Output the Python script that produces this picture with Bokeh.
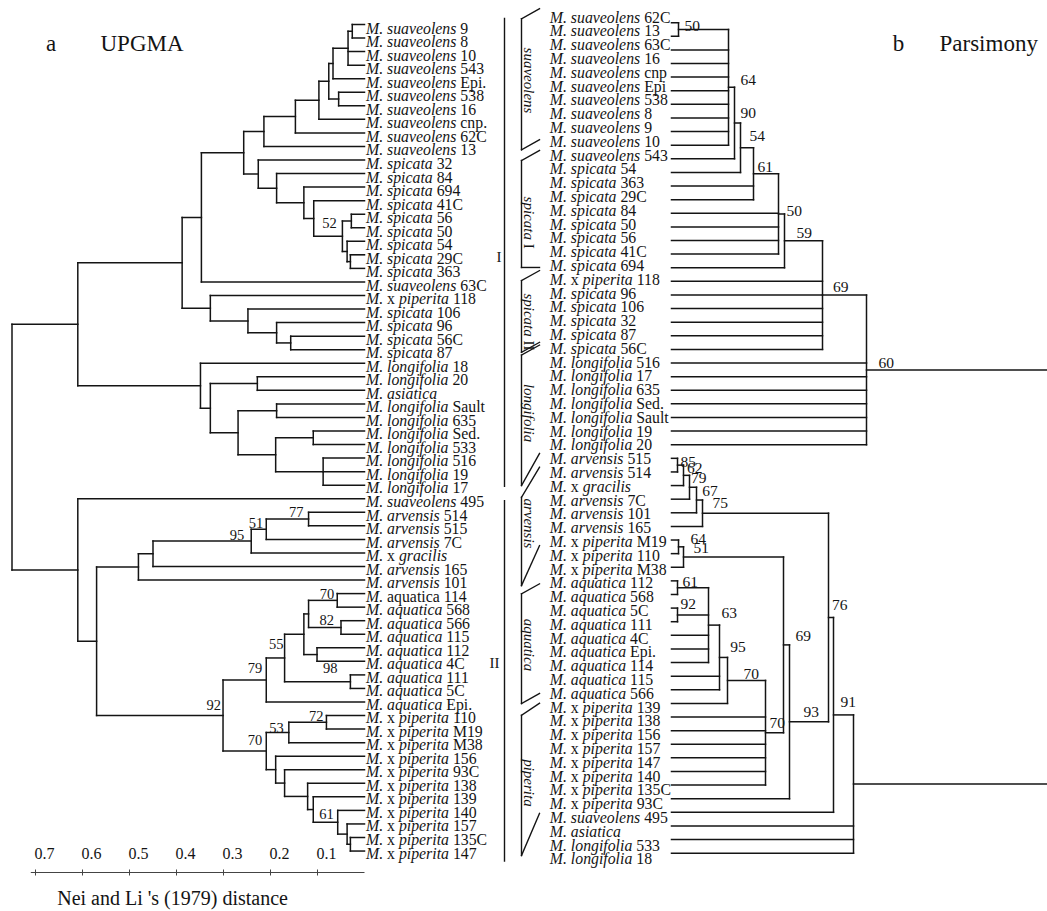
import math
from bokeh.plotting import figure
from bokeh.models import Range1d, ColumnDataSource
from bokeh.core.properties import value
from bokeh.embed import file_html
from bokeh.resources import INLINE

# ------------------------------------------------------------------ data
left_labels = [
    "M. suaveolens 9", "M. suaveolens 8", "M. suaveolens 10", "M. suaveolens 543",
    "M. suaveolens Epi.", "M. suaveolens 538", "M. suaveolens 16", "M. suaveolens cnp.",
    "M. suaveolens 62C", "M. suaveolens 13", "M. spicata 32", "M. spicata 84",
    "M. spicata 694", "M. spicata 41C", "M. spicata 56", "M. spicata 50",
    "M. spicata 54", "M. spicata 29C", "M. spicata 363", "M. suaveolens 63C",
    "M. x piperita 118", "M. spicata 106", "M. spicata 96", "M. spicata 56C",
    "M. spicata 87", "M. longifolia 18", "M. longifolia 20", "M. asiatica",
    "M. longifolia Sault", "M. longifolia 635", "M. longifolia Sed.", "M. longifolia 533",
    "M. longifolia 516", "M. longifolia 19", "M. longifolia 17", "M. suaveolens 495",
    "M. arvensis 514", "M. arvensis 515", "M. arvensis 7C", "M. x gracilis",
    "M. arvensis 165", "M. arvensis 101", "M. aquatica 114", "M. aquatica 568",
    "M. aquatica 566", "M. aquatica 115", "M. aquatica 112", "M. aquatica 4C",
    "M. aquatica 111", "M. aquatica 5C", "M. aquatica Epi.", "M. x piperita 110",
    "M. x piperita M19", "M. x piperita M38", "M. x piperita 156", "M. x piperita 93C",
    "M. x piperita 138", "M. x piperita 139", "M. x piperita 140", "M. x piperita 157",
    "M. x piperita 135C", "M. x piperita 147",
]
left_roman_species = [42]

# UPGMA internal nodes: children (leaf row index or node name), Nei-Li distance, bootstrap
left_node_names = [
    "L1", "L2", "L3", "L4", "L5", "L6", "L7", "L8", "L9", "L10",
    "L11", "L12", "L13", "L14", "L15", "L16", "L17", "L18", "L19", "L20",
    "L21", "L22", "L23", "L24", "L25", "L26", "L27", "L28", "L29", "L30",
    "L31", "L32", "L33", "L34", "L35", "L36", "L37", "L38", "L39", "L40",
    "L41", "L42", "L43", "L44", "L45", "L46", "L47", "L48", "L49", "L50",
    "L51", "L52", "L53", "L54", "L55", "L56", "L57", "L58", "L59",
]
left_node_children = [
    [0, 1], ["L1", 2, 3], ["L2", 4], [5, 6], ["L3", "L4"], ["L5", 7], ["L6", 8], ["L7", 9],
    [14, 15], [17, 18], [16, "L10"], ["L9", "L11"], [13, "L12"], [12, "L13"], [11, "L14"],
    [10, "L15"], ["L8", "L16"], ["L17", 19], [23, 24], [22, "L19"], [21, "L20"], [20, "L21"],
    ["L18", "L22"], [32, 33, 34], [30, 31], ["L25", "L24"], [28, 29], ["L27", "L26"],
    [26, 27], ["L29", "L28"], [25, "L30"], ["L23", "L31"],
    [36, 37], ["L33", 38], ["L34", 39], ["L35", 40], ["L36", 41],
    [42, 43], [44, 45], ["L38", "L39"], [46, 47], ["L40", "L41"], [48, 49], ["L42", "L43"],
    ["L44", 50], [51, 52], ["L46", 53], [60, 61], [59, "L48"], [58, "L49"], [57, "L50"],
    [56, "L51"], [55, "L52"], [54, "L53"], ["L47", "L54"], ["L45", "L55"], ["L37", "L56"],
    [35, "L57"], ["L32", "L58"],
]
left_node_dist = [
    0.026, 0.035, 0.067, 0.055, 0.076, 0.097, 0.147, 0.214, 0.028, 0.030,
    0.037, 0.047, 0.108, 0.129, 0.187, 0.226, 0.257, 0.347, 0.157, 0.187,
    0.248, 0.328, 0.388, 0.088, 0.109, 0.189, 0.187, 0.269, 0.228, 0.328,
    0.349, 0.610, 0.119, 0.209, 0.241, 0.450, 0.481, 0.058, 0.050, 0.119,
    0.101, 0.129, 0.030, 0.170, 0.209, 0.081, 0.161, 0.030, 0.037, 0.057,
    0.109, 0.121, 0.170, 0.189, 0.209, 0.301, 0.570, 0.610, 0.750,
]
left_node_support = {
    "L12": "52", "L33": "77", "L34": "51", "L35": "95", "L38": "70", "L39": "82",
    "L41": "98", "L44": "55", "L45": "79", "L46": "72", "L47": "53", "L50": "61",
    "L55": "70", "L56": "92",
}

right_labels = [
    "M. suaveolens 62C", "M. suaveolens 13", "M. suaveolens 63C", "M. suaveolens 16",
    "M. suaveolens cnp", "M. suaveolens Epi", "M. suaveolens 538", "M. suaveolens 8",
    "M. suaveolens 9", "M. suaveolens 10", "M. suaveolens 543", "M. spicata 54",
    "M. spicata 363", "M. spicata 29C", "M. spicata 84", "M. spicata 50",
    "M. spicata 56", "M. spicata 41C", "M. spicata 694", "M. x piperita 118",
    "M. spicata 96", "M. spicata 106", "M. spicata 32", "M. spicata 87",
    "M. spicata 56C", "M. longifolia 516", "M. longifolia 17", "M. longifolia 635",
    "M. longifolia Sed.", "M. longifolia Sault", "M. longifolia 19", "M. longifolia 20",
    "M. arvensis 515", "M. arvensis 514", "M. x gracilis", "M. arvensis 7C",
    "M. arvensis 101", "M. arvensis 165", "M. x piperita M19", "M. x piperita 110",
    "M. x piperita M38", "M. aquatica 112", "M. aquatica 568", "M. aquatica 5C",
    "M. aquatica 111", "M. aquatica 4C", "M. aquatica Epi.", "M. aquatica 114",
    "M. aquatica 115", "M. aquatica 566", "M. x piperita 139", "M. x piperita 138",
    "M. x piperita 156", "M. x piperita 157", "M. x piperita 147", "M. x piperita 140",
    "M. x piperita 135C", "M. x piperita 93C", "M. suaveolens 495", "M. asiatica",
    "M. longifolia 533", "M. longifolia 18",
]

# parsimony consensus: children, cladogram depth (drawing units), bootstrap
right_node_names = [
    "R1", "R2", "R3", "R4", "R5", "R6", "R7", "R8", "R9", "R10",
    "R11", "R12", "R13", "R14", "R15", "R16", "R17", "R18", "R19", "R20",
    "R21", "R22", "R23", "R24", "R25", "R26", "R27", "R28",
]
right_node_children = [
    [0, 1], ["R1", 2, 3, 4, 5, 6, 7, 8, 9], ["R2", 10], ["R3", 11], ["R4", 12, 13],
    ["R5", 14, 15, 16, 17], ["R6", 18], ["R7", 19, 20, 21, 22, 23, 24],
    ["R8", 25, 26, 27, 28, 29, 30, 31],
    [32, 33], ["R10", 34], ["R11", 35], ["R12", 36], ["R13", 37],
    [38, 39], ["R15", 40], [41, 42], [43, 44], ["R17", "R18", 45, 46, 47],
    ["R19", 48, 49], ["R20", 50], ["R21", 51, 52, 53, 54, 55, 56], ["R16", "R22"],
    ["R23", 57], ["R14", "R24"], ["R25", 58], ["R26", 59, 60, 61], ["R9", "R27"],
]
right_node_depth = [
    678, 728, 734, 740, 753, 778, 784, 822, 866,
    677, 683, 689, 696, 702, 678, 683, 677, 677, 708,
    719, 727, 765, 783, 789, 828, 833, 853, 1065,
]
right_node_support = {
    "R1": "50", "R2": "64", "R3": "90", "R4": "54", "R5": "61", "R6": "50", "R7": "59",
    "R8": "69", "R9": "60", "R10": "85", "R11": "62", "R12": "79", "R13": "67",
    "R14": "75", "R15": "64", "R16": "51", "R17": "61", "R18": "92", "R19": "63",
    "R20": "95", "R21": "70", "R22": "70", "R23": "69", "R24": "93", "R25": "76",
    "R26": "91",
}

scale_ticks = [0.7, 0.6, 0.5, 0.4, 0.3, 0.2, 0.1]
scale_tick_labels = ["0.7", "0.6", "0.5", "0.4", "0.3", "0.2", "0.1"]

group_names = ["suaveolens", "spicata", "spicata", "longifolia", "arvensis", "aquatica", "piperita"]
group_suffix = ["", "I", "II", "", "", "", ""]
group_top_row = [0.13, 10.4, 19.1, 24.5, 34.8, 41.8, 50.6]
group_bottom_row = [9.62, 18.15, 24.3, 33.95, 41.2, 49.75, 60.76]
group_label_row = [4.6, 14.9, 22.1, 28.7, 36.7, 45.5, 55.5]

cluster_names = ["I", "II"]
cluster_first_row = [0, 35]
cluster_last_row = [34, 61]
cluster_label_row = [17, 47]

# ------------------------------------------------------------------ layout / style
PAGE_L, PAGE_R, PAGE_T, PAGE_B = 0, 1047, 0, 911
ZERO_PX, PX_PER_UNIT = 364.0, 470.0
INK = "#141414"
FONT = value("Liberation Serif")
LW = 1.5

p = figure(width=PAGE_R - PAGE_L, height=PAGE_B - PAGE_T,
           x_range=Range1d(PAGE_L, PAGE_R), y_range=Range1d(PAGE_B, PAGE_T),
           output_backend="svg", toolbar_location=None,
           x_axis_location=None, y_axis_location=None, min_border=0,
           outline_line_color=None, background_fill_color="white")
p.grid.visible = False


def rows_range(y0, step):
    return Range1d(start=(PAGE_B - y0) / step, end=(PAGE_T - y0) / step)


p.extra_x_ranges = {"dist": Range1d(start=(ZERO_PX - PAGE_L) / PX_PER_UNIT,
                                    end=(ZERO_PX - PAGE_R) / PX_PER_UNIT)}
p.extra_y_ranges = {
    "lline": rows_range(24.0, 13.55),
    "ltext": rows_range(27.8, 13.52),
    "rline": rows_range(22.15, 13.615),
    "rtext": rows_range(16.5, 13.8),
}
ROW_STEP = {"lline": 13.55, "ltext": 13.52, "rline": 13.615, "rtext": 13.8}

ROMAN = {' ': 250, '.': 250, "'": 333, '(': 333, ')': 333, 'C': 667, 'E': 611, 'M': 889,
         'S': 556, 'I': 333, 'N': 722, 'L': 611, 'a': 444, 'c': 444, 'd': 500, 'e': 444,
         'i': 278, 'l': 278, 'n': 500, 'p': 500, 't': 278, 'u': 500, 'x': 500, 's': 389,
         'o': 500, 'r': 333, 'q': 500, 'g': 500, 'v': 500, 'f': 333}
ITALIC = {' ': 250, '.': 250, 'M': 833, 'a': 500, 'c': 444, 'e': 444, 'g': 500, 'i': 278,
          'l': 278, 'n': 500, 'o': 500, 'p': 500, 'q': 500, 'r': 389, 's': 389, 't': 278,
          'u': 500, 'v': 444, 'f': 278, 'x': 444}


def text_width(s, style, size):
    table = ITALIC if style == "italic" else ROMAN
    return sum(table.get(ch, 500) for ch in s) * size / 1000.0


def pieces(label, size, roman_species=False):
    out, off, seen = [], 0.0, False
    for k, tok in enumerate(label.split(" ")):
        if k == 0:
            style = "italic"
        elif tok == "x":
            style = "normal"
        elif not seen and tok.isalpha() and tok.islower():
            style = "normal" if roman_species else "italic"
            seen = True
        else:
            style = "normal"
        if k > 0:
            off += text_width(" ", "normal", size)
        out.append((tok, style, off))
        off += text_width(tok, style, size)
    return out, off


def add_text(xs, ys, texts, xo, yo, size, style, align, baseline, xr=None, yr=None, angle=0.0):
    src = ColumnDataSource(dict(x=xs, y=ys, t=texts, xo=xo, yo=yo))
    kw = {}
    if xr:
        kw["x_range_name"] = xr
    if yr:
        kw["y_range_name"] = yr
    p.text(x="x", y="y", text="t", x_offset="xo", y_offset="yo", source=src,
           text_font=FONT, text_font_size=value(f"{size}px"), text_font_style=style,
           text_align=align, text_baseline=baseline, text_color=INK, angle=angle, **kw)


def build_tree(names, children, xs, leaf_x):
    pos, segs = {}, []
    for n, ch, x in zip(names, children, xs):
        pts = [(leaf_x, float(c)) if isinstance(c, int) else pos[c] for c in ch]
        ys = [q[1] for q in pts]
        pos[n] = (x, (min(ys) + max(ys)) / 2.0)
        segs.append((x, min(ys), x, max(ys)))
        for cx, cy in pts:
            segs.append((cx, cy, x, cy))
    return pos, segs


def draw_segs(segs, xr=None, yr=None, width=LW):
    kw = {}
    if xr:
        kw["x_range_name"] = xr
    if yr:
        kw["y_range_name"] = yr
    p.segment(x0=[s[0] for s in segs], y0=[s[1] for s in segs],
              x1=[s[2] for s in segs], y1=[s[3] for s in segs],
              line_color=INK, line_width=width, line_cap="square", **kw)


def draw_leaf_labels(labels, x, xr, yr, start_px, size, roman_rows=()):
    buckets = {"italic": ([], [], [], []), "normal": ([], [], [], [])}
    for r, lab in enumerate(labels):
        ps, _ = pieces(lab, size, r in roman_rows)
        for tok, style, off in ps:
            b = buckets[style]
            b[0].append(x); b[1].append(r); b[2].append(tok); b[3].append(start_px + off)
    for style, b in buckets.items():
        add_text(b[0], b[1], b[2], b[3], [0.0] * len(b[0]), size, style, "left", "middle",
                 xr=xr, yr=yr)


# ------------------------------------------------------------------ UPGMA tree (a)
lpos, lsegs = build_tree(left_node_names, left_node_children, left_node_dist, 0.0)
draw_segs(lsegs, xr="dist", yr="lline")
draw_leaf_labels(left_labels, 0.0, "dist", "ltext", 1.5, 15.8, left_roman_species)

LEFT_NUDGE = {"L12": (-5.7, -13), "L33": (-5, -7), "L34": (-3, -6), "L35": (-7, -5.6),
              "L38": (-3, -6), "L39": (-7, -7), "L44": (-1, -14), "L45": (-4, -12),
              "L56": (-2, -11), "L46": (-3, -6), "L47": (-5, -4), "L55": (-4, -10.6),
              "L50": (-4, -8)}
BELOW = {"L41": (6, 13.5)}
sx, sy, st, sxo, syo = [], [], [], [], []
bx, by, bt, bxo, byo = [], [], [], [], []
for n, lab in left_node_support.items():
    x, y = lpos[n]
    if n in BELOW:
        dx, dy = BELOW[n]
        bx.append(x); by.append(y); bt.append(lab); bxo.append(dx); byo.append(dy)
    else:
        dx, dy = LEFT_NUDGE.get(n, (-3, -7))
        sx.append(x); sy.append(y); st.append(lab); sxo.append(dx); syo.append(dy)
add_text(sx, sy, st, sxo, syo, 14.5, "normal", "right", "middle", xr="dist", yr="lline")
add_text(bx, by, bt, bxo, byo, 14.5, "normal", "left", "middle", xr="dist", yr="lline")

# scale bar
SCALE_Y, SCALE_LABEL_Y = 872, 853
p.segment(x0=[0.0], y0=[SCALE_Y], x1=[max(scale_ticks) + 0.01], y1=[SCALE_Y],
          x_range_name="dist", line_color="#444444", line_width=1)
p.segment(x0=scale_ticks, y0=[SCALE_Y - 3] * len(scale_ticks), x1=scale_ticks,
          y1=[SCALE_Y + 3] * len(scale_ticks), x_range_name="dist",
          line_color="#444444", line_width=1)
add_text(scale_ticks, [SCALE_LABEL_Y] * len(scale_ticks), scale_tick_labels,
         [-1.0] * len(scale_ticks), [0.0] * len(scale_ticks), 16, "normal", "left", "middle",
         xr="dist")
add_text([56.7], [897], ["Nei and Li 's (1979) distance"], [0.0], [0.0], 20, "normal",
         "left", "middle")

# titles
add_text([50.7, 898], [43, 43], ["a", "b"], [0.0, 0.0], [0.0, 0.0], 23, "normal",
         "center", "middle")
add_text([100, 939], [43, 43], ["UPGMA", "Parsimony"], [0.0, 0.0], [0.0, 0.0], 23,
         "normal", "left", "middle")

# ------------------------------------------------------------------ parsimony tree (b)
RIGHT_LEAF_X, RIGHT_TEXT_X = 671.0, 549.3
rpos, rsegs = build_tree(right_node_names, right_node_children, right_node_depth, RIGHT_LEAF_X)
draw_segs(rsegs, yr="rline")
draw_leaf_labels(right_labels, RIGHT_TEXT_X, None, "rtext", 0.0, 15.8)

RIGHT_NUDGE = {"R1": (6, -3.5), "R2": (12, -7), "R3": (6, -10), "R4": (9, -12),
               "R5": (4, -6.5), "R6": (8, -2.4), "R7": (12, -8), "R8": (10.5, -8),
               "R9": (12, -7), "R10": (3, -3), "R11": (3.4, -7), "R12": (1.4, -9),
               "R13": (5.7, -9), "R14": (10, -10), "R15": (12, -8), "R16": (10, -8.6),
               "R17": (5, -6), "R18": (3, -11), "R19": (13, -11.7), "R20": (10.7, -10),
               "R21": (16, -6), "R22": (4, -10), "R23": (12, -8.6), "R24": (14, -9.6),
               "R25": (3.4, -13), "R26": (7, -13)}
tx, ty, tt, txo, tyo = [], [], [], [], []
for n, lab in right_node_support.items():
    x, y = rpos[n]
    dx, dy = RIGHT_NUDGE.get(n, (8, -9))
    tx.append(x); ty.append(y); tt.append(lab); txo.append(dx); tyo.append(dy)
add_text(tx, ty, tt, txo, tyo, 15.5, "normal", "left", "middle", yr="rline")

# ------------------------------------------------------------------ group brackets
BR_X, BR_W = 521.0, 18.0
step = ROW_STEP["rtext"]
TOP_RISE = [10, 10, 10, 10, 30, 10, 12]
BOTTOM_RISE = [10, 0, 10, 32, 40, 10, 42]
gsegs = []
for k in range(len(group_names)):
    top, bot = group_top_row[k], group_bottom_row[k]
    gsegs.append((BR_X, top, BR_X, bot))
    gsegs.append((BR_X, top, BR_X + BR_W, top - TOP_RISE[k] / step))
    gsegs.append((BR_X, bot, BR_X + BR_W, bot - BOTTOM_RISE[k] / step))
draw_segs(gsegs, yr="rtext", width=1.4)

GL_SIZE = 15
ix, iy, it, iyo = [], [], [], []
nx, ny, nt, nyo = [], [], [], []
for k in range(len(group_names)):
    w_main = text_width(group_names[k], "italic", GL_SIZE)
    total = w_main + (text_width(" " + group_suffix[k], "normal", GL_SIZE) if group_suffix[k] else 0)
    ix.append(528.5); iy.append(group_label_row[k]); it.append(group_names[k]); iyo.append(-total / 2)
    if group_suffix[k]:
        nx.append(528.5); ny.append(group_label_row[k]); nt.append(group_suffix[k])
        nyo.append(-total / 2 + w_main + text_width(" ", "normal", GL_SIZE))
add_text(ix, iy, it, [0.0] * len(ix), iyo, GL_SIZE, "italic", "left", "middle", yr="rtext",
         angle=-math.pi / 2)
add_text(nx, ny, nt, [0.0] * len(nx), nyo, GL_SIZE, "normal", "left", "middle", yr="rtext",
         angle=-math.pi / 2)

# major clusters I / II
lstep = ROW_STEP["lline"]
pad_top = [-6.0, 2.0]
pad_bot = [1.0, 10.0]
csegs = []
for k in range(len(cluster_names)):
    csegs.append((504.0, cluster_first_row[k] + pad_top[k] / lstep,
                  504.0, cluster_last_row[k] + pad_bot[k] / lstep))
draw_segs(csegs, yr="lline", width=1.4)
add_text([501.0, 499.0], cluster_label_row, cluster_names, [0.0, 0.0], [-1.0, -1.0], 15,
         "normal", "right", "middle", yr="ltext")

open("out.html", "w").write(file_html(p, INLINE))
